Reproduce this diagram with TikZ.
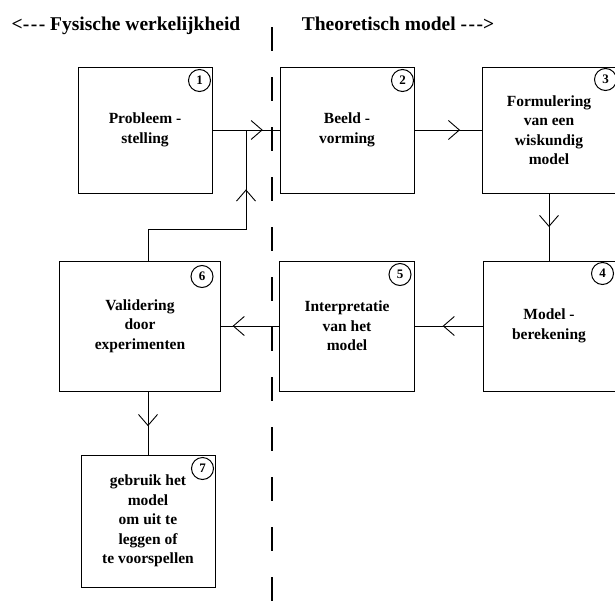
\documentclass[tikz,border=0pt]{standalone}
\usepackage{fontspec}
\setmainfont{Liberation Serif}
\usepackage{tikz}
\usetikzlibrary{arrows.meta, decorations.markings, calc}
\tikzstyle{blok} = [rectangle, minimum width=134pt, minimum height=126pt, text centered, align=center, draw=black, line width=1pt, font=\fontsize{15.5}{19.5}\selectfont\bfseries]
\tikzstyle{nummer} = [circle, draw=black, line width=1pt, inner sep=0pt, minimum size=22pt, font=\fontsize{13}{13}\selectfont\bfseries]
\tikzstyle{titel} = [font=\fontsize{19.5}{22}\selectfont\bfseries]
\tikzstyle{lijn} = [line width=0.8pt]
\tikzstyle{scheiding} = [line width=1.6pt, dash pattern=on 24pt off 26pt]
\tikzset{pijl/.style={postaction={decorate, decoration={markings, mark=at position #1 with {\arrow[line width=0.9pt]{Straight Barb[length=11pt,width=19pt]}}}}}}
\newcommand{\streep}{-\kern1.5pt-\kern1.5pt-}

\begin{document}
\begin{tikzpicture}[x=1pt, y=-1pt, node distance=202pt]
\useasboundingbox (0,0) rectangle (615,605);

\node (links) [titel] at (126,26) {<\streep\ Fysische werkelijkheid};
\node (rechts) [titel] at (398,24) {Theoretisch model \streep>};
\draw [scheiding] (272,27) -- (272,605);

\node (prob) [blok] at (145,130) {Probleem -\\stelling};
\node (beeld) [blok, right of=prob] {Beeld -\\vorming};
\node (formul) [blok, right of=beeld] {Formulering\\van een\\wiskundig\\model};
\node (bereken) [blok, below of=formul, yshift=6pt, minimum width=132pt, minimum height=130pt] {Model -\\berekening};
\node (interp) [blok, left of=bereken, minimum width=135pt, minimum height=130pt] {Interpretatie\\van het\\model};
\node (valid) [blok, left of=interp, xshift=-5pt, minimum width=161pt, minimum height=130pt] {Validering\\door\\experimenten};
\node (gebruik) [blok, below of=valid, xshift=8pt, yshift=7pt, minimum height=132pt] {gebruik het\\model\\om uit te\\leggen of\\te voorspellen};

\node (n1) [nummer] at ([shift={(-13pt,-14pt)}]prob.north east) {1};
\node (n2) [nummer] at ([shift={(-12pt,-14pt)}]beeld.north east) {2};
\node (n3) [nummer] at ([shift={(-11pt,-13pt)}]formul.north east) {3};
\node (n4) [nummer] at ([shift={(-13pt,-13pt)}]bereken.north east) {4};
\node (n5) [nummer] at ([shift={(-15pt,-14pt)}]interp.north east) {5};
\node (n6) [nummer] at ([shift={(-19pt,-16pt)}]valid.north east) {6};
\node (n7) [nummer] at ([shift={(-13pt,-14pt)}]gebruik.north east) {7};

\coordinate (join) at ($(prob.east)!0.5!(beeld.west)$);

\draw [lijn, pijl=0.75] (prob) -- (beeld);
\draw [lijn, pijl=0.68] (beeld) -- (formul);
\draw [lijn, pijl=0.5] (formul) -- (bereken);
\draw [lijn, pijl=0.59] (bereken) -- (interp);
\draw [lijn, pijl=0.8] (interp) -- (valid);
\draw [lijn, pijl=0.55] ([xshift=8pt]valid.south) -- (gebruik);
\draw [lijn, pijl=0.74] ([xshift=8pt]valid.north) |- ([yshift=-99pt]join) -- (join);

\end{tikzpicture}
\end{document}
